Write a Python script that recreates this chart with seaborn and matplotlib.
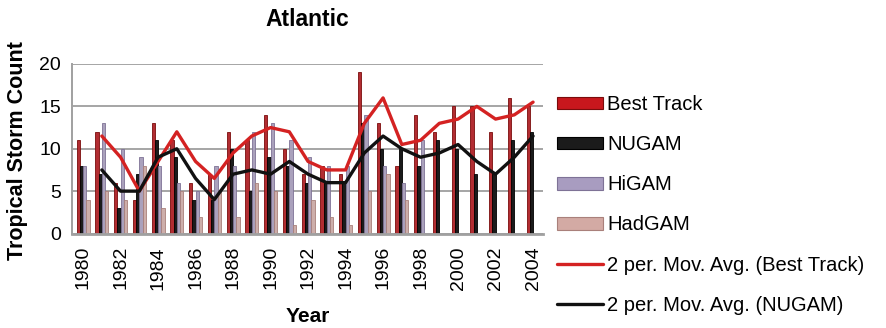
import numpy as np
import pandas as pd
import seaborn as sns
import matplotlib.pyplot as plt
from matplotlib.patches import Patch
from matplotlib.lines import Line2D

nan = np.nan
years = list(range(1980, 2005))
best_track = [11, 12, 6, 4, 13, 11, 6, 7, 12, 11, 14, 10, 7, 8, 7, 19, 13, 8, 14, 12, 15, 15, 12, 16, 15]
nugam = [8, 7, 3, 7, 11, 9, 4, 4, 10, 5, 9, 8, 6, 6, 6, 13, 10, 10, 8, 11, 10, 7, 7, 11, 12]
higam = [8, 13, 10, 9, 8, 6, 5, 8, 8, 12, 13, 11, 9, 8, 8, 14, 8, 6, 11] + [nan] * 6
hadgam = [4, 5, 4, 8, 3, 5, 2, 5, 2, 6, 5, 1, 4, 2, 1, 5, 7, 4] + [nan] * 7

models = ["Best Track", "NUGAM", "HiGAM", "HadGAM"]
colors = {"Best Track": "#c8171d", "NUGAM": "#1b1b1b", "HiGAM": "#a89cc0", "HadGAM": "#d3aaa4"}
edges = {"Best Track": "#7a0c0c", "NUGAM": "#000000", "HiGAM": "#7e7296", "HadGAM": "#a9807b"}

wide = pd.DataFrame({"Year": years, "Best Track": best_track, "NUGAM": nugam,
                     "HiGAM": higam, "HadGAM": hadgam})
df = wide.melt(id_vars="Year", var_name="Model", value_name="Count").dropna()

# 2 period moving averages
wide["MA Best"] = wide["Best Track"].rolling(2).mean()
wide["MA NUGAM"] = wide["NUGAM"].rolling(2).mean()

sns.set_theme(style="white")
plt.rcParams["font.family"] = ["Liberation Sans", "DejaVu Sans"]
plt.rcParams["text.color"] = "black"

fig = plt.figure(figsize=(8.86, 3.28), dpi=100)
ax = fig.add_axes([72 / 886, 1 - 233.5 / 328, 471 / 886, 169.5 / 328])

sns.barplot(data=df, x="Year", y="Count", hue="Model", hue_order=models,
            palette=colors, native_scale=True, width=0.7, errorbar=None,
            legend=False, ax=ax, zorder=2)
for cont, m in zip(ax.containers, models):
    for p in cont:
        p.set_edgecolor(edges[m])
        p.set_linewidth(0.6)

sns.lineplot(data=wide, x="Year", y="MA Best", color="#d42222", lw=2.4, ax=ax, zorder=3)
sns.lineplot(data=wide, x="Year", y="MA NUGAM", color="#111111", lw=2.4, ax=ax, zorder=3)

ax.set_xlim(1979.41, 2004.53)
ax.set_ylim(0, 20)
ax.set_yticks([0, 5, 10, 15, 20])
ax.set_xticks(years[::2])
ax.set_xticklabels([str(y) for y in years[::2]], rotation=90)
ax.yaxis.grid(True, color="#a5a5a5", lw=1.4, zorder=0)
ax.set_axisbelow(True)
for s in ["top", "right"]:
    ax.spines[s].set_visible(False)
ax.spines["left"].set_color("#a0a0a0")
ax.spines["left"].set_linewidth(1.4)
ax.spines["bottom"].set_color("#a0a0a0")
ax.spines["bottom"].set_linewidth(2)
ax.tick_params(axis="y", length=5, width=1.4, color="#a0a0a0", pad=3,
               labelsize=14, labelcolor="black")
ax.tick_params(axis="x", length=0, pad=9, labelsize=14, labelcolor="black")
ax.set_xlabel("")
ax.set_ylabel("")

fig.text(307.5 / 886, 1 - 19 / 328, "Atlantic", ha="center", va="center",
         fontsize=16.5, fontweight="bold")
fig.text(18 / 886, 1 - 151 / 328, "Tropical Storm Count", ha="center", va="center",
         rotation=90, fontsize=15.5, fontweight="bold")
fig.text(307.5 / 886, 1 - 317 / 328, "Year", ha="center", va="center",
         fontsize=15, fontweight="bold")

handles = [Patch(facecolor=colors[m], edgecolor=edges[m], lw=0.8) for m in models]
handles += [Line2D([], [], color="#d42222", lw=2.4), Line2D([], [], color="#111111", lw=2.4)]
labels = models + ["2 per. Mov. Avg. (Best Track)", "2 per. Mov. Avg. (NUGAM)"]
fig.legend(handles, labels, loc="upper left", bbox_to_anchor=(557 / 886, 1 - 95 / 328),
           bbox_transform=fig.transFigure, frameon=False, fontsize=14.5,
           handlelength=2.3, handleheight=0.6, handletextpad=0.2, labelspacing=1.05,
           borderpad=0, borderaxespad=0)

fig.savefig("out.png", dpi=100)
